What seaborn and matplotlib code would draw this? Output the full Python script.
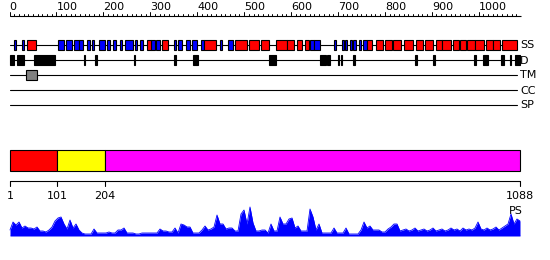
import numpy as np
import pandas as pd
import matplotlib
matplotlib.use("Agg")
import matplotlib.pyplot as plt
from matplotlib.patches import Rectangle
import seaborn as sns

sns.set_style("white")
plt.rcParams['font.family'] = ['DejaVu Sans']

# ---------------- data ----------------
SEQ_LEN = 1088
ruler_labels = [0, 100, 200, 300, 400, 500, 600, 700, 800, 900, 1000]
track_names = ["SS", "D", "TM", "CC", "SP"]

helix_start = [38, 292, 324, 414, 480, 510, 535, 568, 591, 613, 630, 762, 781, 800, 818, 840, 867,
               886, 908, 922, 945, 961, 975, 992, 1015, 1031, 1049]
helix_end = [57, 302, 338, 441, 506, 532, 553, 591, 606, 624, 638, 773, 797, 815, 834, 860, 882,
             902, 922, 940, 958, 973, 992, 1012, 1030, 1045, 1082]
strand_start = [9, 26, 103, 120, 137, 147, 166, 176, 191, 208, 221, 235, 247, 267, 279, 302, 313,
                350, 360, 377, 389, 409, 449, 466, 641, 649, 691, 708, 715, 725, 733, 744, 754]
strand_end = [13, 30, 116, 134, 147, 156, 171, 181, 203, 214, 226, 240, 263, 271, 285, 309, 320,
              354, 368, 385, 400, 414, 453, 477, 649, 661, 696, 712, 719, 730, 738, 750, 762]
disorder_start = [1, 15, 53, 158, 183, 265, 350, 390, 552, 661, 677, 701, 707, 732, 864, 903, 990,
                  1010, 1047, 1066, 1077]
disorder_end = [9, 30, 97, 161, 186, 267, 355, 402, 567, 674, 682, 703, 709, 736, 868, 906, 994,
                1019, 1053, 1069, 1088]
tm_start = [36]
tm_end = [59]

domain_start = [1, 101, 204]
domain_end = [101, 204, 1088]
domain_colors = ["#ff0000", "#ffff00", "#ff00ff"]
domain_ticks = [1, 101, 204, 1088]

ps_values = [6, 14, 11, 14, 8, 10, 8, 8, 7, 9, 5, 5, 4, 6, 9, 15, 18, 19, 12, 7,
             16, 8, 12, 6, 3, 2, 2, 2, 7, 3, 3, 3, 3, 4, 3, 3, 6, 6, 8, 3,
             3, 3, 2, 2, 3, 3, 3, 3, 3, 3, 7, 5, 5, 4, 4, 8, 3, 12, 11, 9,
             9, 3, 3, 3,
             6, 10, 6, 7, 9, 21, 12, 12, 7, 8, 8, 5, 5, 22, 26, 12, 29, 13, 5, 5,
             6, 6, 3, 12, 5, 5, 19, 12, 12, 17, 18, 8, 10, 5, 5, 5, 27, 19, 6, 12,
             3, 3, 3, 3, 8, 3, 3, 3, 8, 2, 2, 2, 2, 6, 14, 8, 10, 6, 6, 6,
             4, 4, 7, 9, 12, 12, 5,
             6, 7, 5, 6, 8, 5, 6, 7, 5, 6, 8, 5, 6, 7, 5, 6, 8, 6, 7, 5,
             8, 6, 7, 6, 8, 14, 7, 6, 8, 6, 7, 9, 6, 8, 10, 12, 22, 12, 17, 15]

# ---------------- layout helpers ----------------
W, H = 550, 260
fig = plt.figure(figsize=(W / 100, H / 100), dpi=100)

X0, X1 = 10, 520
k = (SEQ_LEN - 1) / (X1 - X0)
XLIM = (1 - X0 * k, 1 + (W - X0) * k)

def add_axes(top_px, bottom_px):
    a = fig.add_axes([0, 1 - bottom_px / H, 1, (bottom_px - top_px) / H])
    a.set_xlim(*XLIM)
    a.axis("off")
    return a

# ---------- main track axes (y in pixel rows) ----------
ax = add_axes(0, 260)
ax.set_ylim(260, 0)

lw = 0.8
ruler_y = 16
ax.plot([0, 1090], [ruler_y, ruler_y], color="black", lw=lw, solid_capstyle="butt")
for t in range(0, 1090, 10):
    h = 4 if t % 100 == 0 else 2.5
    ax.plot([t, t], [ruler_y, ruler_y - h], color="black", lw=0.7)
for t in ruler_labels:
    ax.text(t, ruler_y - 5.5, str(t), ha="left", va="baseline", fontsize=8,
            family=["Liberation Sans Narrow", "DejaVu Sans"], color="black")

track_y = {"SS": 45, "D": 60, "TM": 75, "CC": 90, "SP": 105}
for name in track_names:
    y = track_y[name]
    ax.plot([1, 1082], [y, y], color="black", lw=lw, zorder=1)
    ax.text(1088, y + 0.5, name, ha="left", va="center", fontsize=8, color="black")

def boxes(starts, ends, y, h, color):
    for s, e in zip(starts, ends):
        ax.add_patch(Rectangle((s, y - h / 2), e - s, h, facecolor=color,
                               edgecolor="black", lw=0.8, zorder=3))

boxes(strand_start, strand_end, track_y["SS"], 9.5, "#0000ff")
boxes(helix_start, helix_end, track_y["SS"], 9.5, "#ff0000")
boxes(disorder_start, disorder_end, track_y["D"], 10, "black")
boxes(tm_start, tm_end, track_y["TM"], 10, "#808080")

bar_top, bar_h = 150, 21
dom = pd.DataFrame({"start": domain_start, "end": domain_end, "color": domain_colors})
ax.barh([bar_top + bar_h / 2] * len(dom), dom["end"] - dom["start"], left=dom["start"],
        height=bar_h, color=dom["color"], edgecolor="black", lw=0.8, zorder=3)

axis_y = 181
ax.plot([1, SEQ_LEN], [axis_y, axis_y], color="black", lw=lw)
for t in domain_ticks:
    ax.plot([t, t], [axis_y, axis_y + 4.5], color="black", lw=lw)
    ax.text(t, axis_y + 15, str(t), ha="center", va="center", fontsize=8, color="black")
ax.text(1094, 211, "PS", ha="right", va="center", fontsize=8, color="black")

# ---------- PS profile ----------
ax2 = add_axes(203, 236)
ax2.set_ylim(0, 33)
ps = pd.DataFrame({"pos": np.linspace(1, SEQ_LEN, len(ps_values)), "ps": ps_values})
ax2.fill_between(ps["pos"], 0, ps["ps"], color="#0000ff", lw=0)
sns.lineplot(data=ps, x="pos", y="ps", ax=ax2, color="#0000ff", lw=0.6)
ax2.plot([1, SEQ_LEN], [0, 0], color="#0000ff", lw=1)
ax2.axis("off")

fig.savefig("out.png", dpi=100)
